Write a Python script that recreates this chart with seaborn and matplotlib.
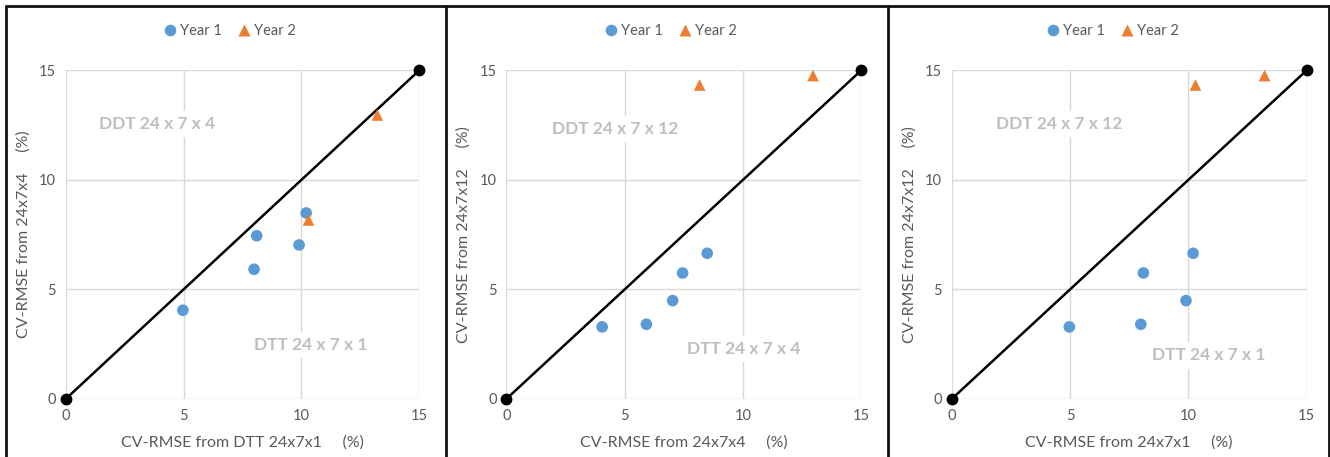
import matplotlib
matplotlib.use("Agg")
import matplotlib.pyplot as plt
from matplotlib.lines import Line2D
import seaborn as sns
import pandas as pd

# ---- data ----
years = ["Year 1"] * 5 + ["Year 2"] * 2
cv_24x7x1 = [4.97, 7.99, 8.10, 9.90, 10.20, 10.30, 13.22]
cv_24x7x4 = [4.05, 5.92, 7.45, 7.03, 8.49, 8.17, 12.96]
cv_24x7x12 = [3.29, 3.41, 5.75, 4.49, 6.65, 14.33, 14.76]
ref_line = [0, 15]
ticks = [0, 5, 10, 15]

panels = [
    ("x1", "x4", "CV-RMSE from DTT 24x7x1     (%)", "CV-RMSE from 24x7x4     (%)",
     ("DDT 24 x 7 x 4", 3.87, 12.55), ("DTT 24 x 7 x 1", 10.41, 2.47)),
    ("x4", "x12", "CV-RMSE from 24x7x4     (%)", "CV-RMSE from 24x7x12     (%)",
     ("DDT 24 x 7 x 12", 4.59, 12.33), ("DTT 24 x 7 x 4", 10.03, 2.27)),
    ("x1", "x12", "CV-RMSE from 24x7x1     (%)", "CV-RMSE from 24x7x12     (%)",
     ("DDT 24 x 7 x 12", 4.56, 12.55), ("DTT 24 x 7 x 1", 10.88, 1.99)),
]

df = pd.DataFrame({"year": years, "x1": cv_24x7x1, "x4": cv_24x7x4, "x12": cv_24x7x12})

sns.set_theme(style="white")
plt.rcParams["font.family"] = ["Lato", "DejaVu Sans"]

W, H = 1330, 457
fig = plt.figure(figsize=(W / 100, H / 100), dpi=100)

axes_px = [(65.7, 419.3), (506.3, 861.3), (951.7, 1306.7)]
frames = [(6, 446), (446, 888), (888, 1329)]
y0_px, y15_px = 399, 70.3

palette = {"Year 1": "#5B9BD5", "Year 2": "#ED7D31"}
markers = {"Year 1": "o", "Year 2": "^"}
tick_color = "#595959"
grid_color = "#D9D9D9"
note_color = "#BFBFBF"

for (xcol, ycol, xl, yl, n1, n2), (px0, px1), (fx0, fx1) in zip(panels, axes_px, frames):
    ax = fig.add_axes([px0 / W, (H - y0_px) / H, (px1 - px0) / W, (y0_px - y15_px) / H])
    ax.set_xlim(0, 15)
    ax.set_ylim(0, 15)
    ax.set_xticks(ticks)
    ax.set_yticks(ticks)
    ax.grid(True, color=grid_color, lw=1.0, zorder=0)
    for s in ax.spines.values():
        s.set_visible(False)
    ax.tick_params(axis="both", length=0, labelsize=10.5, labelcolor=tick_color, pad=7)

    for txt, tx, ty in (n1, n2):
        ax.text(tx, ty, txt, ha="center", va="center", fontsize=12.5, fontweight="bold",
                color=note_color, zorder=2,
                bbox=dict(boxstyle="square,pad=0.3", fc="white", ec="none"))

    ax.plot(ref_line, ref_line, color="black", lw=1.8, marker="o", markersize=7.5,
            zorder=3, clip_on=False)

    sns.scatterplot(data=df, x=xcol, y=ycol, hue="year", style="year", palette=palette,
                    markers=markers, s=70, edgecolor="none", ax=ax, zorder=4, clip_on=False)

    ax.set_xlabel(xl, fontsize=11.5, color=tick_color, labelpad=9)
    ax.set_ylabel(yl, fontsize=11.5, color=tick_color, labelpad=6)

    cx = (fx0 + fx1) / 2 / W
    sns.move_legend(ax, "center", bbox_to_anchor=(cx, (H - 31) / H),
                    bbox_transform=fig.transFigure, ncol=2, frameon=False, title=None,
                    fontsize=10.5, handletextpad=-0.3, columnspacing=0.5, markerscale=1.0)
    for t in ax.get_legend().get_texts():
        t.set_color(tick_color)

# panel frames
lw = 2.0
for x in [6, 446, 888, 1329]:
    fig.add_artist(Line2D([x / W, x / W], [0, (H - 5.5) / H], color="#111111", lw=lw,
                          transform=fig.transFigure))
fig.add_artist(Line2D([6 / W, 1329 / W], [(H - 5.5) / H, (H - 5.5) / H], color="#111111",
                      lw=lw, transform=fig.transFigure))

fig.savefig("out.png", dpi=100)
